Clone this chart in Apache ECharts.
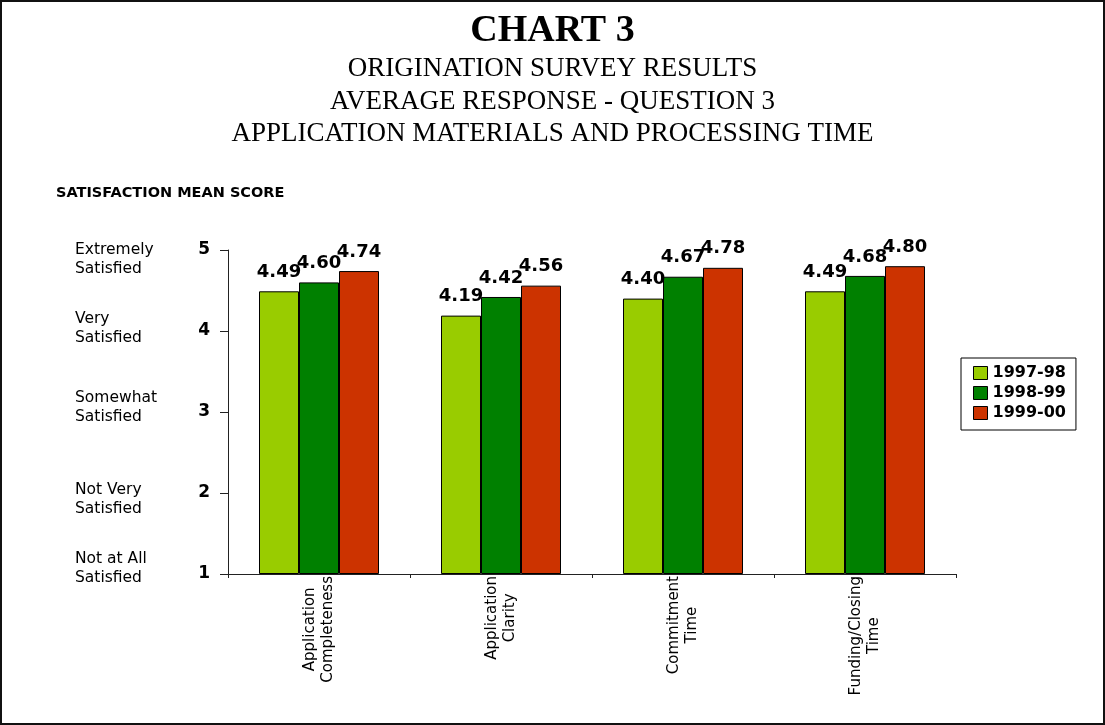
<!DOCTYPE html>
<html>
<head>
<meta charset="utf-8">
<script src="https://cdn.jsdelivr.net/npm/echarts@6/dist/echarts.min.js"></script>
<style>
  html, body { margin: 0; padding: 0; background: #fff; }
  #wrap { position: relative; width: 1105px; height: 725px; }
  #chart { position: absolute; left: 0; top: 0; width: 1105px; height: 725px; }
  #frame { position: absolute; left: 0; top: 0; width: 1105px; height: 725px;
           box-sizing: border-box; border: 2px solid #111; pointer-events: none; }
</style>
</head>
<body>
<div id="wrap"><div id="chart"></div><div id="frame"></div></div>
<script>
// Survey categories (two-line axis captions)
const categories = [
  'Application\nCompleteness',
  'Application\nClarity',
  'Commitment\nTime',
  'Funding/Closing\nTime'
];
// Survey years
const seriesNames = ['1997-98', '1998-99', '1999-00'];
// Mean satisfaction scores per year
const scores9798 = [4.49, 4.19, 4.40, 4.49];
const scores9899 = [4.60, 4.42, 4.67, 4.68];
const scores9900 = [4.74, 4.56, 4.78, 4.80];
// Score scale and its verbal meaning
const scoreTicks = [1, 2, 3, 4, 5];
const scaleLabels = [
  'Not at All\nSatisfied',
  'Not Very\nSatisfied',
  'Somewhat\nSatisfied',
  'Very\nSatisfied',
  'Extremely\nSatisfied'
];
const seriesColors = ['#99CC00', '#008000', '#CC3300'];

const SANS = 'DejaVu Sans';
const SERIF = 'Liberation Serif';
const seriesData = [scores9798, scores9899, scores9900];

// Vertical nudge (px, positive = down) of each verbal caption relative to its tick
const captionNudge = [-4, 5, -3, -1, 8];

// Rich styles for the verbal captions: a taller first/last line with the text
// pinned to its bottom/top moves the whole two-line block down/up.
const CAPTION_LH = 21.5;
const captionBase = { fontFamily: SANS, fontSize: 15.5, lineHeight: CAPTION_LH, color: '#000' };
const captionRich = { n: Object.assign({}, captionBase) };
captionNudge.forEach((s, i) => {
  if (s > 0) captionRich['t' + i] = Object.assign({}, captionBase, { lineHeight: CAPTION_LH + 2 * s, verticalAlign: 'bottom' });
  if (s < 0) captionRich['b' + i] = Object.assign({}, captionBase, { lineHeight: CAPTION_LH - 2 * s, verticalAlign: 'top' });
});
function captionFormatter(v) {
  const i = scoreTicks.indexOf(v);
  if (i < 0) return '';
  const lines = scaleLabels[i].split('\n');
  const s = captionNudge[i];
  return lines.map((line, k) => {
    let style = 'n';
    if (s > 0 && k === 0) style = 't' + i;
    if (s < 0 && k === lines.length - 1) style = 'b' + i;
    return '{' + style + '|' + line + '}';
  }).join('\n');
}

const chart = echarts.init(document.getElementById('chart'), null, { renderer: 'canvas' });

const option = {
  backgroundColor: '#fff',
  animation: false,
  title: [
    {
      text: 'CHART 3',
      subtext: 'ORIGINATION SURVEY RESULTS\nAVERAGE RESPONSE - QUESTION 3\nAPPLICATION MATERIALS AND PROCESSING TIME',
      left: 'center',
      top: 11,
      padding: 0,
      itemGap: 2,
      textStyle: { fontFamily: SERIF, fontWeight: 'bold', fontSize: 38, lineHeight: 40, color: '#000' },
      subtextStyle: { fontFamily: SERIF, fontSize: 27, lineHeight: 32.5, color: '#000' }
    },
    {
      text: 'SATISFACTION MEAN SCORE',
      left: 56,
      top: 185,
      padding: 0,
      textStyle: { fontFamily: SANS, fontWeight: 'bold', fontSize: 14.5, lineHeight: 16, color: '#000' }
    }
  ],
  legend: {
    orient: 'vertical',
    left: 961,
    top: 358,
    padding: [7, 10, 9, 12],
    itemGap: 4,
    itemWidth: 14,
    itemHeight: 13,
    icon: 'rect',
    borderColor: '#000',
    borderWidth: 1,
    itemStyle: { borderColor: '#000', borderWidth: 1 },
    textStyle: { fontFamily: SANS, fontWeight: 'bold', fontSize: 16, lineHeight: 16, color: '#000' },
    data: seriesNames
  },
  grid: {
    left: 228,
    right: 149,
    top: 250,
    bottom: 151,
    containLabel: false,
    outerBoundsMode: 'none'
  },
  xAxis: {
    type: 'category',
    data: categories,
    axisLine: { show: true, lineStyle: { color: '#222', width: 1 } },
    axisTick: { show: true, length: 4, lineStyle: { color: '#222' } },
    splitLine: { show: false },
    axisLabel: {
      rotate: 90,
      margin: 2,
      interval: 0,
      formatter: v => v.split('\n').map(s => '{c|' + s + '}').join('\n'),
      rich: {
        c: { align: 'center', fontFamily: SANS, fontSize: 15, lineHeight: 18, color: '#000' }
      }
    }
  },
  yAxis: [
    {
      type: 'value',
      min: scoreTicks[0],
      max: scoreTicks[scoreTicks.length - 1],
      interval: 1,
      startValue: scoreTicks[0],
      position: 'left',
      axisLine: { show: true, lineStyle: { color: '#222', width: 1 } },
      axisTick: { show: true, length: 8, lineStyle: { color: '#222' } },
      splitLine: { show: false },
      axisLabel: { margin: 18, fontFamily: SANS, fontWeight: 'bold', fontSize: 17, color: '#000' }
    },
    {
      type: 'value',
      min: scoreTicks[0],
      max: scoreTicks[scoreTicks.length - 1],
      interval: 1,
      position: 'left',
      offset: 0,
      axisLine: { show: false },
      axisTick: { show: false },
      splitLine: { show: false },
      axisLabel: {
        margin: 153,
        align: 'left',
        formatter: captionFormatter,
        rich: captionRich
      }
    }
  ],
  series: seriesNames.map((name, i) => ({
    name: name,
    type: 'bar',
    yAxisIndex: 0,
    data: seriesData[i],
    barWidth: 40,
    barGap: '0%',
    itemStyle: { color: seriesColors[i], borderColor: '#000', borderWidth: 1 },
    label: {
      show: true,
      position: 'top',
      distance: 10,
      formatter: p => Number(p.value).toFixed(2),
      fontFamily: SANS,
      fontWeight: 'bold',
      fontSize: 18,
      lineHeight: 18,
      color: '#000'
    }
  }))
};

chart.setOption(option);
</script>
</body>
</html>
